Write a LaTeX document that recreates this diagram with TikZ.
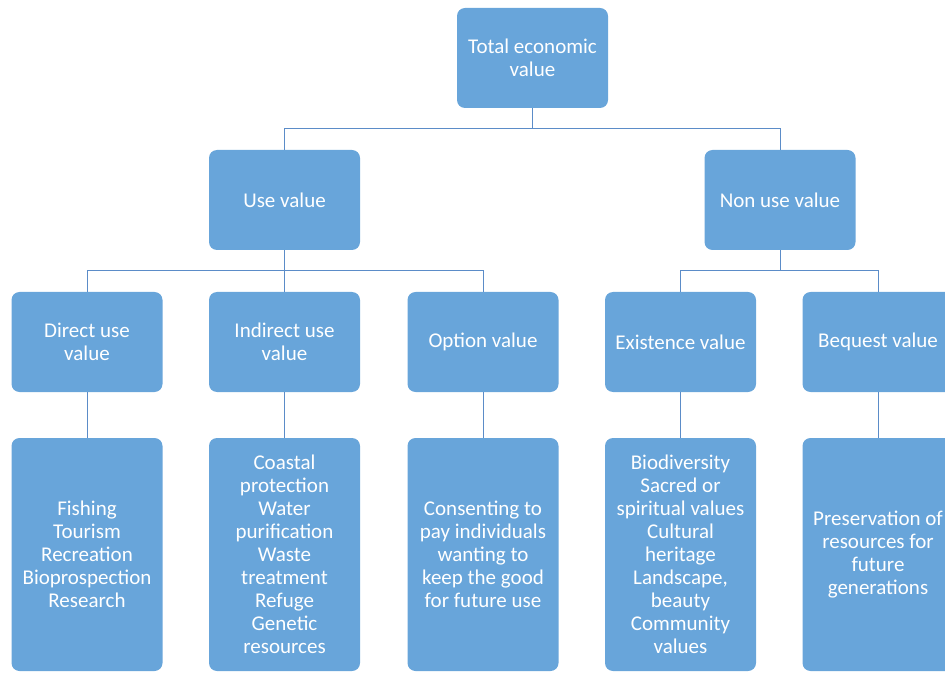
\documentclass[tikz,border=0pt]{standalone}
\usepackage{fontspec}
\setmainfont{Carlito}
\definecolor{boxblue}{RGB}{104,165,218}
\definecolor{linkblue}{RGB}{91,140,200}

\begin{document}
\begin{tikzpicture}[x=1pt,y=1pt]
            \useasboundingbox (0,0) rectangle (945,673);
            \clip (0,0) rectangle (945,673);
            \begin{scope}[every node/.style={rectangle,rounded corners=8pt,fill=boxblue,text=white,
                    align=center,inner sep=2pt,minimum width=151pt,minimum height=100pt,
                    font=\fontsize{21}{23}\selectfont}]
                \node (tev) at (532.5,615) {Total economic\\value};
                \node (use) at (284.5,473) {Use value};
                \node (nonuse) at (780,473) {Non use value};
                \node (direct) at (87,331) {Direct use\\value};
                \node (indirect) at (284.5,331) {Indirect use\\value};
                \node (option) at (483,331) {Option value};
                \node (exist) at (680.5,331) {Existence value};
                \node (bequest) at (878,331) {Bequest value};
                \node[minimum height=233pt] (directx) at (87,118.5) {Fishing\\Tourism\\Recreation\\Bioprospection\\Research};
                \node[minimum height=233pt] (indirectx) at (284.5,118.5) {Coastal\\protection\\Water\\purification\\Waste\\treatment\\Refuge\\Genetic\\resources};
                \node[minimum height=233pt] (optionx) at (483,118.5) {Consenting to\\pay individuals\\wanting to\\keep the good\\for future use};
                \node[minimum height=233pt] (existx) at (680.5,118.5) {Biodiversity\\Sacred or\\spiritual values\\Cultural\\heritage\\Landscape,\\beauty\\Community\\values};
                \node[minimum height=233pt] (bequestx) at (878,118.5) {Preservation of\\resources for\\future\\generations};
            \end{scope}

            \begin{scope}[draw=linkblue,line width=0.9pt]
                \draw (tev.south) -- ++(0,-20) -| (use.north);
                \draw (tev.south) -- ++(0,-20) -| (nonuse.north);

                \draw (use.south) -- ++(0,-20) -| (direct.north);
                \draw (use.south) -- (indirect.north);
                \draw (use.south) -- ++(0,-20) -| (option.north);
                \draw (nonuse.south) -- ++(0,-20) -| (exist.north);
                \draw (nonuse.south) -- ++(0,-20) -| (bequest.north);

                \draw (direct) -- (directx);
                \draw (indirect) -- (indirectx);
                \draw (option) -- (optionx);
                \draw (exist) -- (existx);
                \draw (bequest) -- (bequestx);
            \end{scope}
            \end{tikzpicture}
\end{document}
